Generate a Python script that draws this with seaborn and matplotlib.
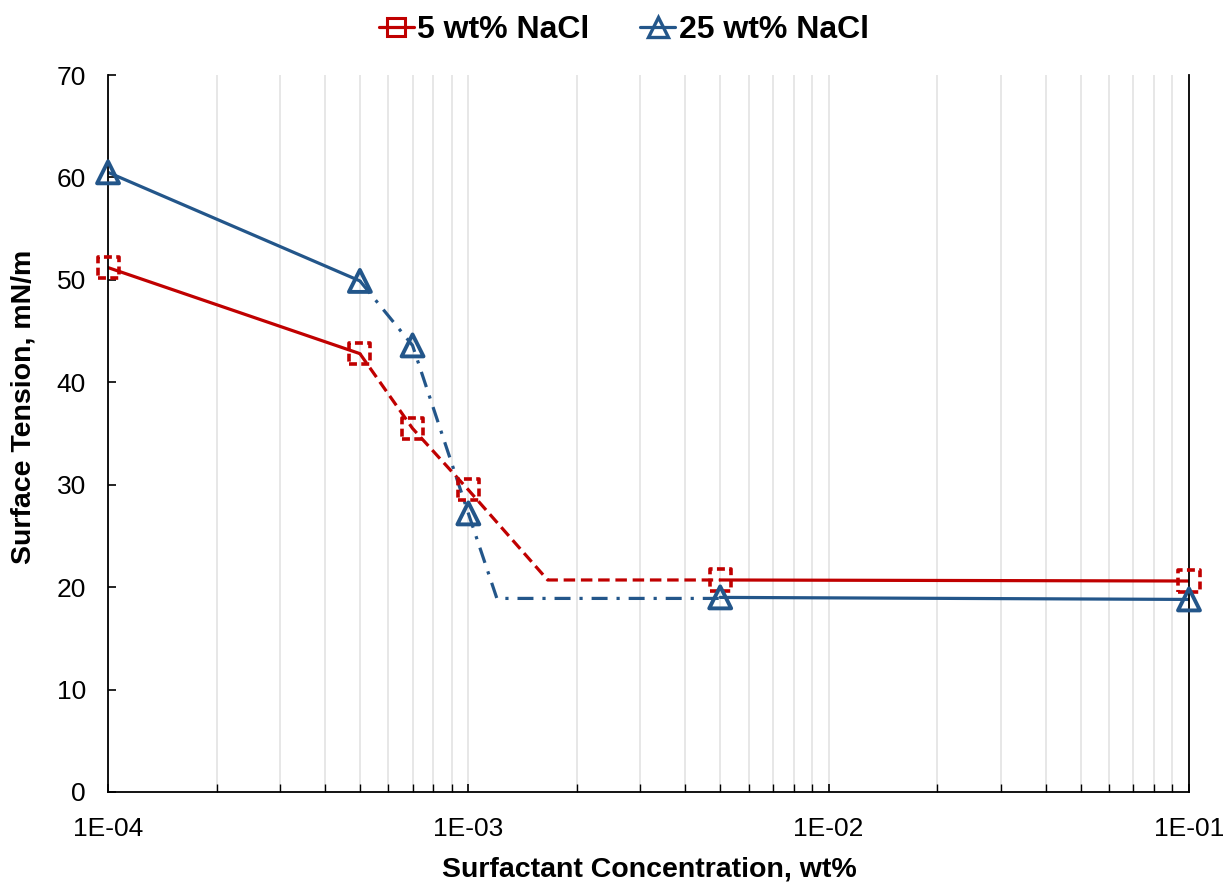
import matplotlib
matplotlib.use("Agg")
import matplotlib.pyplot as plt
import seaborn as sns
import numpy as np
import pandas as pd
from matplotlib.ticker import FixedLocator, LogLocator, NullFormatter, FixedFormatter
from matplotlib.lines import Line2D

# ---- data ----
conc = [1e-4, 5e-4, 7e-4, 1e-3, 5e-3, 1e-1]
st_5 = [51.2, 42.8, 35.5, 29.5, 20.7, 20.6]
st_25 = [60.5, 49.9, 43.6, 27.2, 19.0, 18.8]

# fitted segments (solid before/after, broken in transition)
fit5_solid_a_x = [1e-4, 5e-4]
fit5_solid_a_y = [51.2, 42.8]
fit5_dash_x = [5e-4, 7e-4, 1e-3, 1.66e-3, 5e-3]
fit5_dash_y = [42.8, 35.5, 29.5, 20.7, 20.7]
fit5_solid_b_x = [5e-3, 1e-1]
fit5_solid_b_y = [20.7, 20.6]

fit25_solid_a_x = [1e-4, 5e-4]
fit25_solid_a_y = [60.5, 49.9]
fit25_dash_x = [5e-4, 7e-4, 1e-3, 1.2e-3, 5e-3]
fit25_dash_y = [49.9, 43.6, 27.2, 18.9, 18.9]
fit25_solid_b_x = [5e-3, 1e-1]
fit25_solid_b_y = [19.0, 18.8]

series_labels = ["5 wt% NaCl", "25 wt% NaCl"]
xtick_vals = [1e-4, 1e-3, 1e-2, 1e-1]
xtick_labels = ["1E-04", "1E-03", "1E-02", "1E-01"]
ytick_vals = [0, 10, 20, 30, 40, 50, 60, 70]

RED = "#C00000"
BLUE = "#23568A"

sns.set_theme(style="white")
plt.rcParams["font.family"] = ["Liberation Sans", "DejaVu Sans"]
plt.rcParams["text.color"] = "black"
plt.rcParams["axes.labelcolor"] = "black"
plt.rcParams["xtick.color"] = "black"
plt.rcParams["ytick.color"] = "black"

fig = plt.figure(figsize=(12.25, 8.86), dpi=100)
ax = fig.add_axes([0.0882, 0.1061, 0.9706 - 0.0882, 0.9153 - 0.1061])

lw = 2.3
# red lines
sns.lineplot(x=fit5_solid_a_x, y=fit5_solid_a_y, ax=ax, color=RED, lw=lw, legend=False)
sns.lineplot(x=fit5_solid_b_x, y=fit5_solid_b_y, ax=ax, color=RED, lw=lw, legend=False)
ax.plot(fit5_dash_x, fit5_dash_y, color=RED, lw=lw, dashes=(3.6, 1.8))
# blue lines
sns.lineplot(x=fit25_solid_a_x, y=fit25_solid_a_y, ax=ax, color=BLUE, lw=lw, legend=False)
sns.lineplot(x=fit25_solid_b_x, y=fit25_solid_b_y, ax=ax, color=BLUE, lw=lw, legend=False)
ax.plot(fit25_dash_x, fit25_dash_y, color=BLUE, lw=lw, dashes=(5.0, 2.8, 1.0, 2.8))

# markers
ax.scatter(conc, st_5, marker="s", s=230, facecolors="none", edgecolors=RED,
           linewidths=2.6, linestyles=(0, (2.2, 1.2)), zorder=5, clip_on=False)
ax.scatter(conc, st_25, marker="^", s=250, facecolors="none", edgecolors=BLUE,
           linewidths=2.8, zorder=6, clip_on=False)

ax.set_xscale("log")
ax.set_xlim(1e-4, 1e-1)
ax.set_ylim(0, 70)
ax.xaxis.set_major_locator(FixedLocator(xtick_vals))
ax.xaxis.set_major_formatter(FixedFormatter(xtick_labels))
ax.xaxis.set_minor_locator(LogLocator(base=10, subs=np.arange(2, 10)))
ax.xaxis.set_minor_formatter(NullFormatter())
ax.set_yticks(ytick_vals)

ax.grid(True, which="both", axis="x", color="#E3E3E3", lw=1.2)
ax.grid(False, axis="y")
ax.set_axisbelow(True)

ax.spines["top"].set_visible(False)
for side in ["left", "bottom", "right"]:
    ax.spines[side].set_visible(True)
    ax.spines[side].set_color("black")
    ax.spines[side].set_linewidth(1.3)

ax.tick_params(axis="y", which="major", direction="in", length=6, width=1.2,
               labelsize=19, pad=16, left=True, right=False)
ax.tick_params(axis="x", which="major", direction="in", length=6, width=1.2,
               labelsize=19, pad=18, bottom=True, top=False)
ax.tick_params(axis="x", which="minor", direction="in", length=6, width=1.0, bottom=True, top=False)

ax.set_xlabel("Surfactant Concentration, wt%", fontsize=20.5, fontweight="bold")
ax.set_ylabel("Surface Tension, mN/m", fontsize=20.5, fontweight="bold")
ax.xaxis.set_label_coords(0.501, -0.090)
ax.yaxis.set_label_coords(-0.066, 0.537)

handles = [
    Line2D([], [], color=RED, lw=lw, marker="s", markersize=13, markerfacecolor="none",
           markeredgecolor=RED, markeredgewidth=2.2),
    Line2D([], [], color=BLUE, lw=lw, marker="^", markersize=14, markerfacecolor="none",
           markeredgecolor=BLUE, markeredgewidth=2.4),
]
leg = fig.legend(handles, series_labels, loc="center", bbox_to_anchor=(0.509, 0.966), ncol=2,
                 frameon=False, prop={"size": 23, "weight": "bold"}, handlelength=1.1,
                 handletextpad=0.1, columnspacing=1.6)

fig.savefig("out.png", dpi=100)
